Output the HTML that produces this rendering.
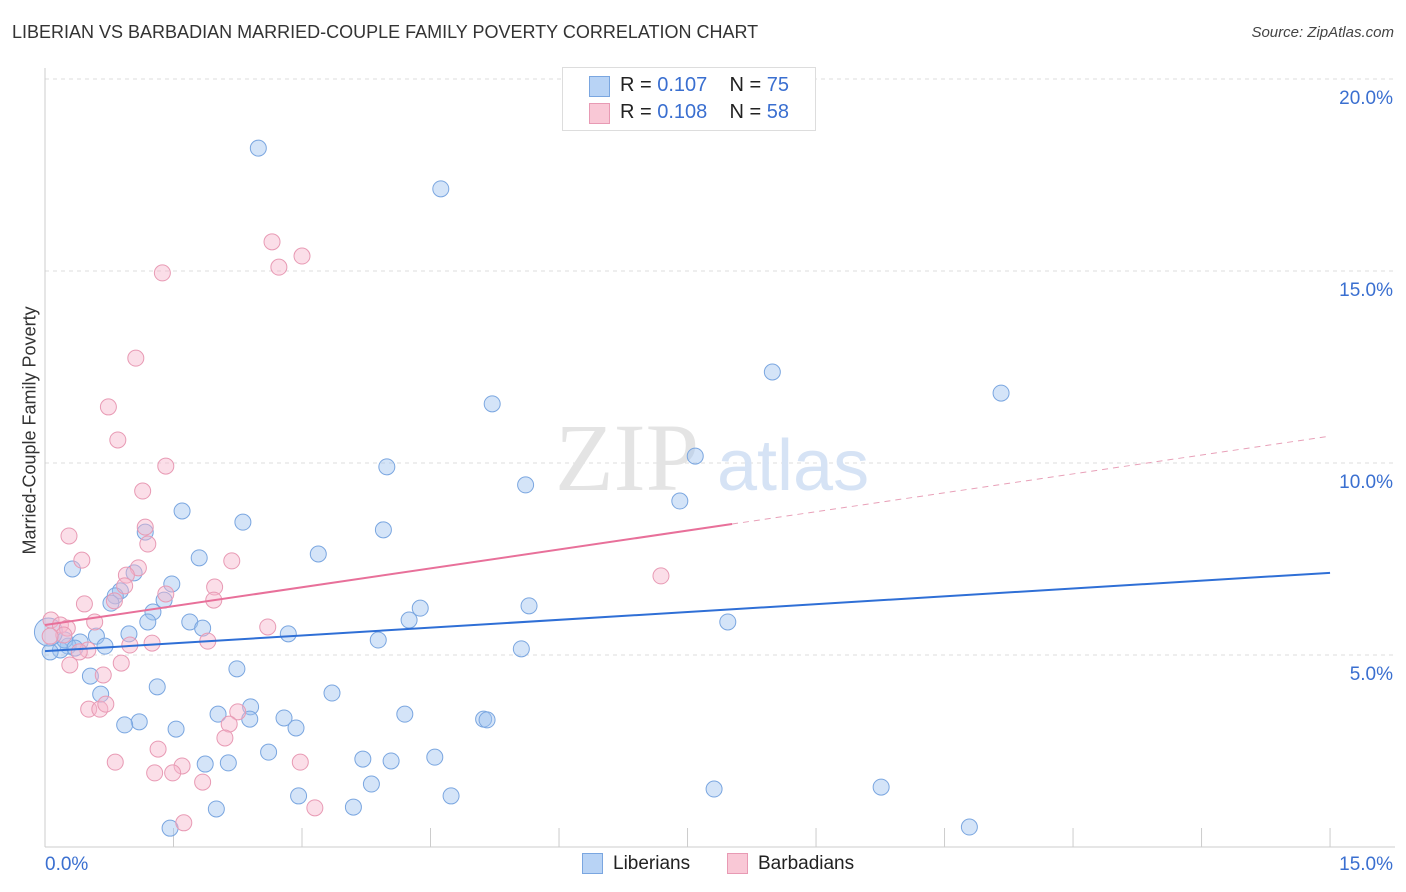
<!DOCTYPE html>
<html><head><meta charset="utf-8"><style>
body{margin:0;background:#fff;font-family:"Liberation Sans",sans-serif;}
#wrap{position:relative;width:1406px;height:892px;overflow:hidden;}
.t{position:absolute;white-space:nowrap;}
</style></head><body>
<div id="wrap">
<div class="t" style="left:12px;top:22px;font-size:18px;color:#333;">LIBERIAN VS BARBADIAN MARRIED-COUPLE FAMILY POVERTY CORRELATION CHART</div>
<div class="t" style="right:12px;top:24px;font-size:15px;color:#444;font-style:italic;">Source: ZipAtlas.com</div>
<div class="t" style="left:-70px;top:444px;font-size:18px;color:#333;transform:rotate(-90deg);width:200px;text-align:center;">Married-Couple Family Poverty</div>
<svg id="svg" width="1406" height="892" style="position:absolute;left:0;top:0"></svg>
<div style="position:absolute;left:562px;top:67px;width:252px;height:62px;border:1px solid #ddd;background:#fff;">
<div style="position:absolute;left:26px;top:8px;width:19px;height:19px;background:#b8d3f5;border:1px solid #7aa6e0;"></div>
<div class="t" style="left:57px;top:6px;font-size:20px;color:#222;">R = <span style="color:#3a6fd0">0.107</span>&nbsp;&nbsp;&nbsp; N = <span style="color:#3a6fd0">75</span></div>
<div style="position:absolute;left:26px;top:35px;width:19px;height:19px;background:#f9c8d6;border:1px solid #e89ab4;"></div>
<div class="t" style="left:57px;top:33px;font-size:20px;color:#222;">R = <span style="color:#3a6fd0">0.108</span>&nbsp;&nbsp;&nbsp; N = <span style="color:#3a6fd0">58</span></div>
</div>
<div style="position:absolute;left:582px;top:853px;width:19px;height:19px;background:#b8d3f5;border:1px solid #7aa6e0;"></div>
<div class="t" style="left:613px;top:853px;font-size:19px;color:#222;">Liberians</div>
<div style="position:absolute;left:727px;top:853px;width:19px;height:19px;background:#f9c8d6;border:1px solid #e89ab4;"></div>
<div class="t" style="left:758px;top:853px;font-size:19px;color:#222;">Barbadians</div>
</div>
<script>
const blueX=[2.49,4.62,8.49,11.16,5.22,3.99,7.59,5.61,7.41,1.60,2.31,3.95,1.17,3.19,1.80,0.32,1.04,1.48,0.88,0.82,0.77,1.39,1.26,4.38,5.65,1.20,1.69,1.84,4.25,7.97,2.84,0.98,0.60,3.89,0.41,0.70,0.27,0.18,5.56,0.06,2.24,0.53,1.31,3.35,0.65,2.40,2.02,4.20,2.39,5.12,5.16,2.79,1.10,0.93,1.53,2.93,2.61,4.55,3.71,4.04,1.87,2.14,3.81,7.81,9.76,2.96,4.74,3.60,2.00,1.46,10.79,0.23,0.35,0.04];
const blueY=[18.20,17.14,12.37,11.82,11.54,9.90,10.18,9.43,9.01,8.75,8.46,8.26,8.20,7.63,7.53,7.24,7.14,6.85,6.67,6.54,6.35,6.43,6.12,6.22,6.28,5.86,5.86,5.70,5.91,5.86,5.55,5.55,5.49,5.39,5.34,5.23,5.23,5.13,5.16,5.08,4.64,4.45,4.17,4.01,3.98,3.65,3.46,3.46,3.33,3.33,3.31,3.36,3.26,3.18,3.07,3.10,2.47,2.34,2.29,2.24,2.16,2.19,1.64,1.51,1.56,1.33,1.33,1.04,0.99,0.49,0.52,5.39,5.18,5.60];
const pinkX=[2.65,3.00,2.73,1.37,1.06,0.74,0.85,1.41,1.14,1.17,0.28,1.20,2.18,0.43,1.09,0.95,1.98,1.41,1.97,0.46,0.81,0.93,0.07,0.18,0.58,0.26,0.22,0.06,2.60,0.50,1.90,1.25,0.40,0.89,0.29,0.68,2.25,0.51,0.64,0.71,2.15,2.10,1.32,0.82,2.98,1.60,1.28,1.49,1.84,3.15,1.62,7.19,0.99];
const pinkY=[15.76,15.39,15.10,14.95,12.73,11.46,10.60,9.92,9.27,8.33,8.10,7.89,7.45,7.47,7.27,7.08,6.77,6.59,6.43,6.33,6.41,6.80,5.91,5.78,5.86,5.70,5.52,5.49,5.73,5.13,5.36,5.31,5.08,4.79,4.74,4.48,3.52,3.59,3.59,3.72,3.20,2.84,2.55,2.21,2.21,2.11,1.93,1.93,1.69,1.02,0.63,7.06,5.26];
const blueTrend=[5.10,7.14];
const pinkTrend=[5.78,10.70];
const pinkSolidEnd=8.02;
const yTicks=[5,10,15,20];
const xTicks=[0,1.5,3,4.5,6,7.5,9,10.5,12,13.5,15];
const NS="http://www.w3.org/2000/svg";
const svg=document.getElementById('svg');
const sx=v=>45+v*85.67, sy=v=>847-v*38.4;
function mk(tag,a){const e=document.createElementNS(NS,tag);for(const k in a)e.setAttribute(k,a[k]);svg.appendChild(e);return e;}
for(const t of yTicks){
 const g=mk('line',{x1:45,x2:1395,y1:sy(t),y2:sy(t),stroke:'#ddd','stroke-dasharray':'4,4'});
 
 
 const tx=mk('text',{x:1393,y:sy(t)+25,'text-anchor':'end','font-size':19,fill:'#3a6fd0','font-family':'Liberation Sans'});
 tx.textContent=t.toFixed(1)+'%';
 
 
}
mk('line',{x1:45,x2:45,y1:68,y2:847,stroke:'#ccc'});
mk('line',{x1:45,x2:1395,y1:847,y2:847,stroke:'#ccc'});
for(const t of xTicks){const l=mk('line',{x1:sx(t),x2:sx(t),y1:828,y2:847,stroke:'#ccc'});
 
 }
const x0=mk('text',{x:45,y:870,'font-size':19,fill:'#3a6fd0','font-family':'Liberation Sans'});x0.textContent='0.0%';


const x1=mk('text',{x:1393,y:870,'text-anchor':'end','font-size':19,fill:'#3a6fd0','font-family':'Liberation Sans'});x1.textContent='15.0%';


const wm=mk('text',{x:555,y:490,'font-size':96,fill:'#e4e4e4','font-family':'Liberation Serif'});wm.textContent='ZIP';


const wm2=mk('text',{x:717,y:490,'font-size':72,fill:'#d6e3f5','font-family':'Liberation Sans'});wm2.textContent='atlas';


for(let i=0;i<blueX.length;i++){const c=mk('circle',{cx:sx(blueX[i]),cy:sy(blueY[i]),r:i==blueX.length-1?14:8,fill:'rgba(160,196,240,0.45)',stroke:'#7aa6e0','stroke-width':1});
 
 }
for(let i=0;i<pinkX.length;i++){const c=mk('circle',{cx:sx(pinkX[i]),cy:sy(pinkY[i]),r:8,fill:'rgba(247,182,204,0.45)',stroke:'#e89ab4','stroke-width':1});
 
 }
const bl=mk('line',{x1:sx(0),y1:sy(blueTrend[0]),x2:sx(15),y2:sy(blueTrend[1]),stroke:'#2f6fd6','stroke-width':2});


const pm=pinkTrend[0]+(pinkTrend[1]-pinkTrend[0])*pinkSolidEnd/15;
const pl=mk('line',{x1:sx(0),y1:sy(pinkTrend[0]),x2:sx(pinkSolidEnd),y2:sy(pm),stroke:'#e8709a','stroke-width':2});


const pd=mk('line',{x1:sx(pinkSolidEnd),y1:sy(pm),x2:sx(15),y2:sy(pinkTrend[1]),stroke:'#e8a0b8','stroke-width':1,'stroke-dasharray':'6,5'});


</script>
</body></html>
